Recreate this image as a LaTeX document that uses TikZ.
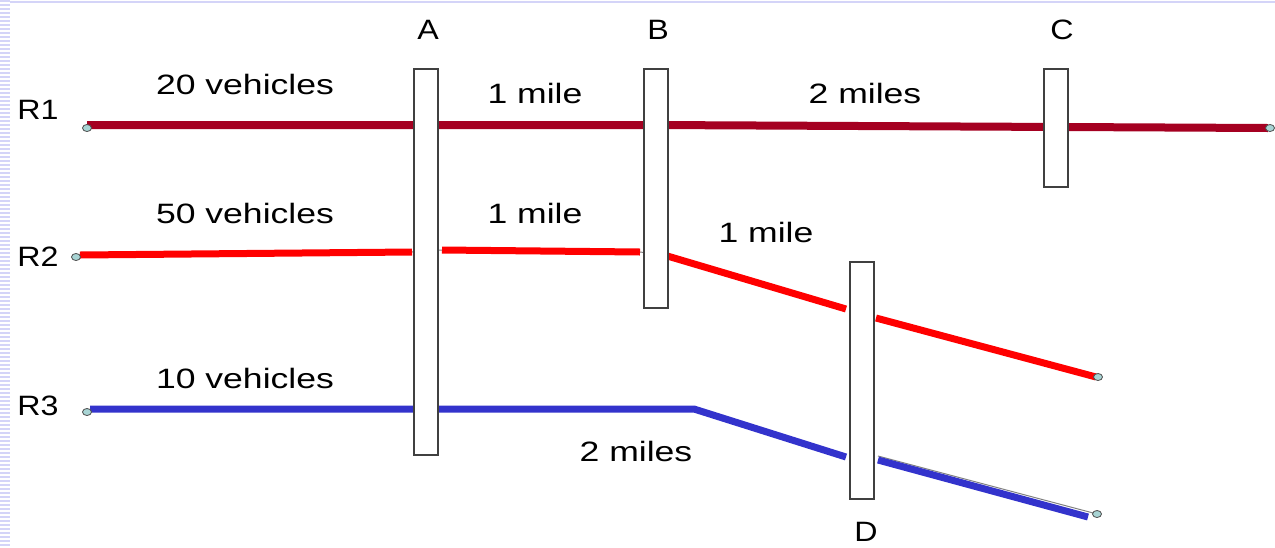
\documentclass[tikz,border=0pt]{standalone}
\usepackage{fontspec}
\setmainfont{Liberation Sans}
\usetikzlibrary{shapes.geometric}
\definecolor{darkred}{HTML}{A50021}
\definecolor{brightred}{HTML}{FF0000}
\definecolor{roadblue}{HTML}{3333CC}
\definecolor{stripe}{HTML}{D4D4F8}
\definecolor{endfill}{HTML}{A8D4D4}
\definecolor{boxline}{HTML}{404040}
\tikzset{
  lbl/.style={font=\fontsize{28}{30}\selectfont, inner sep=0pt, xscale=1.27},
  rlbl/.style={font=\fontsize{28}{30}\selectfont, inner sep=0pt, xscale=1.15},
  gate/.style={draw=boxline, line width=1.2pt, fill=white, minimum width=24pt, inner sep=0pt},
  road1/.style={darkred, line width=8pt},
  road2/.style={brightred, line width=7pt},
  road3/.style={roadblue, line width=7pt},
  thin/.style={gray, line width=1pt},
  endpt/.style={ellipse, draw=black!70, fill=endfill, line width=0.8pt, minimum width=9pt, minimum height=7pt, inner sep=0pt}
}
\begin{document}
\begin{tikzpicture}[x=1pt,y=-1pt]
\useasboundingbox (0,0) rectangle (1275,547);
% background decoration
\foreach \yy in {0,4,...,544} \fill[stripe] (0,\yy) rectangle (10,\yy+2);
\fill[stripe] (10,1) rectangle (1275,3);
% endpoint positions
\coordinate (p1s) at (87,128);
\coordinate (p1e) at (1270,128);
\coordinate (p2s) at (76,257);
\coordinate (p2e) at (1098,377);
\coordinate (p3s) at (87,412);
\coordinate (p3e) at (1097,514);
% road bend points
\coordinate (r1a) at (87,125);
\coordinate (r1b) at (655,125);
\coordinate (r1c) at (1268,128);
\coordinate (r2a) at (80,255);
\coordinate (r2b) at (412,252);
\coordinate (r2c) at (442,250);
\coordinate (r2d) at (640,252);
\coordinate (r2f) at (664,255);
\coordinate (r2g) at (846,309);
\coordinate (r2h) at (876,318);
\coordinate (r2i) at (1096,377);
\coordinate (r3a) at (90,409);
\coordinate (r3b) at (694,409);
\coordinate (r3c) at (846,457);
\coordinate (r3d) at (878,460);
\coordinate (r3f) at (1088,517);
\coordinate (r3t) at (878,456);
% roads
\draw[thin] (r1a) -- (r1b) -- (r1c);
\draw[road1] (r1a) -- (r1b) -- (r1c);
\draw[thin] (r2b) -- (r2c);
\draw[thin] (r2d) -- (r2f);
\draw[road2] (r2a) -- (r2b);
\draw[road2] (r2c) -- (r2d);
\draw[road2] (r2f) -- (r2g);
\draw[road2] (r2h) -- (r2i);
\draw[thin] (r3b) -- (r3c);
\draw[thin] (r3t) -- (p3e);
\draw[road3] (r3a) -- (r3b) -- (r3c);
\draw[road3] (r3d) -- (r3f);
% gates
\node[gate, minimum height=386pt] (A) at (426,262) {};
\node[gate, minimum height=239pt] (B) at (656,188.5) {};
\node[gate, minimum height=118pt] (C) at (1056,128) {};
\node[gate, minimum height=237pt] (D) at (862,380.5) {};
% endpoints on top
\node[endpt] (r1s) at (p1s) {};
\node[endpt] (r1e) at (p1e) {};
\node[endpt] (r2s) at (p2s) {};
\node[endpt] (r2e) at (p2e) {};
\node[endpt] (r3s) at (p3s) {};
\node[endpt] (r3e) at (p3e) {};
% gate labels
\node[rlbl] (lA) at (428,30) {A};
\node[rlbl] (lB) at (658,30) {B};
\node[rlbl] (lC) at (1062,30) {C};
\node[rlbl] (lD) at (866,532) {D};
% road labels
\node[rlbl] (lR1) at (38,110) {R1};
\node[rlbl] (lR2) at (38,257) {R2};
\node[rlbl] (lR3) at (38,406) {R3};
% segment labels
\node[lbl] (t1) at (245,84) {20 vehicles};
\node[lbl] (t2) at (535,93) {1 mile};
\node[lbl] (t3) at (865,93) {2 miles};
\node[lbl] (t4) at (245,213) {50 vehicles};
\node[lbl] (t5) at (535,213) {1 mile};
\node[lbl] (t6) at (766,232) {1 mile};
\node[lbl] (t7) at (245,378) {10 vehicles};
\node[lbl] (t8) at (636,451) {2 miles};
\end{tikzpicture}
\end{document}
